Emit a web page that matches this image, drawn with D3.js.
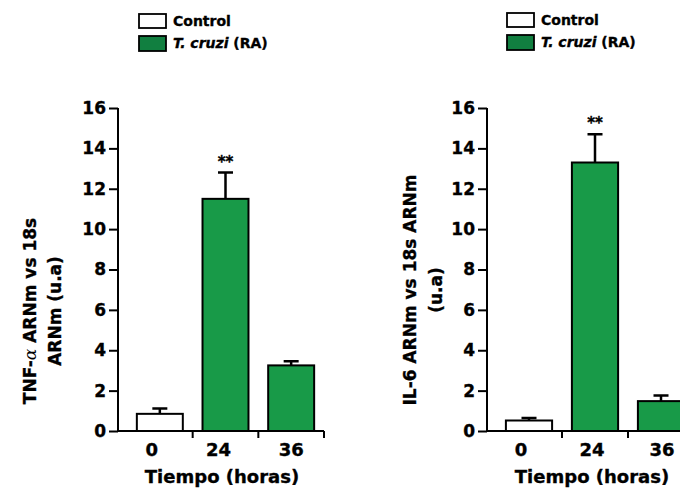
<!DOCTYPE html>
<html>
<head>
<meta charset="utf-8">
<script src="https://cdn.jsdelivr.net/npm/d3@7"></script>
<style>
  body { margin: 0; background: #fff; }
  text { font-family: "DejaVu Sans", sans-serif; font-weight: bold; fill: #000; stroke: #000; stroke-width: 0.35px; }
</style>
</head>
<body>
<script>
var width = 680;
var height = 492;

// data
var horas = ["0", "24", "36"];
var tnfValues = [0.85, 11.5, 3.25];
var tnfErrors = [0.27, 1.3, 0.2];
var il6Values = [0.52, 13.3, 1.48];
var il6Errors = [0.13, 1.4, 0.28];
var signif = ["", "**", ""];
var yTicks = [0, 2, 4, 6, 8, 10, 12, 14, 16];
var barColors = ["#ffffff", "#189a48", "#189a48"];

var svg = d3.select("body").append("svg")
    .attr("width", width)
    .attr("height", height);

function legend(x, y) {
  var g = svg.append("g").attr("transform", "translate(" + x + "," + y + ")");
  g.append("rect").attr("x", 0).attr("y", 0).attr("width", 27).attr("height", 14)
    .attr("fill", "#fff").attr("stroke", "#000").attr("stroke-width", 1.8);
  g.append("text").attr("x", 34).attr("y", 12).style("font-size", "14px").text("Control");
  g.append("rect").attr("x", 0).attr("y", 22).attr("width", 27).attr("height", 15)
    .attr("fill", "#117f40").attr("stroke", "#000").attr("stroke-width", 1.8);
  var t = g.append("text").attr("x", 34).attr("y", 34).style("font-size", "14px");
  t.append("tspan").style("font-style", "italic").text("T. cruzi");
  t.append("tspan").text(" (RA)");
}

function panel(opt) {
  var y = d3.scaleLinear().domain([0, 16]).range([431, 108]);
  var x = d3.scaleBand().domain(horas).range(opt.xr).paddingInner(0.3).paddingOuter(0.15);

  var g = svg.append("g");

  // bars
  g.selectAll(".bar")
    .data(opt.values)
    .enter().append("rect")
    .attr("class", "bar")
    .attr("x", function(d, i) { return x(horas[i]); })
    .attr("y", function(d) { return y(d); })
    .attr("width", x.bandwidth())
    .attr("height", function(d) { return y(0) - y(d); })
    .attr("fill", function(d, i) { return barColors[i]; })
    .attr("stroke", "#000")
    .attr("stroke-width", 2);

  // error bars (upper only)
  g.selectAll(".err")
    .data(opt.values)
    .enter().append("path")
    .attr("class", "err")
    .attr("fill", "none")
    .attr("stroke", "#000")
    .attr("stroke-width", 2.5)
    .attr("d", function(d, i) {
      var cx = x(horas[i]) + x.bandwidth() / 2;
      var top = y(d + opt.errors[i]);
      return "M" + cx + "," + y(d) + "V" + top + "M" + (cx - 7.5) + "," + top + "H" + (cx + 7.5);
    });

  g.selectAll(".sig")
    .data(opt.values)
    .enter().append("text")
    .attr("x", function(d, i) { return x(horas[i]) + x.bandwidth() / 2; })
    .attr("y", function(d, i) { return y(d + opt.errors[i]) - 6; })
    .attr("text-anchor", "middle")
    .style("font-size", "15px")
    .text(function(d, i) { return signif[i]; });

  // y axis
  var ya = g.append("g")
    .attr("transform", "translate(" + opt.x0 + ",0)")
    .call(d3.axisLeft(y).tickValues(yTicks).tickSize(9).tickPadding(3));
  ya.selectAll("text").style("font-size", "17px");

  // x axis with ticks at the category boundaries
  var xEnd = opt.xr[1];
  g.append("line")
    .attr("x1", opt.x0).attr("x2", xEnd)
    .attr("y1", y(0)).attr("y2", y(0))
    .attr("stroke", "#000").attr("stroke-width", 2);
  var step = x.step();
  var bounds = [1, 2, 3].map(function(k) { return x(horas[0]) - x.paddingInner() * step / 2 + k * step; });
  g.selectAll(".xt")
    .data(bounds)
    .enter().append("line")
    .attr("x1", function(d) { return d; }).attr("x2", function(d) { return d; })
    .attr("y1", y(0)).attr("y2", y(0) + 7)
    .attr("stroke", "#000").attr("stroke-width", 2);
  g.selectAll(".xl")
    .data(horas)
    .enter().append("text")
    .attr("x", function(d, i) { return x(d) + x.bandwidth() / 2 + opt.labelShift[i]; })
    .attr("y", 456)
    .attr("text-anchor", "middle")
    .style("font-size", "18px")
    .text(function(d) { return d; });

  ya.select(".domain").attr("stroke-width", 2).attr("d", "M0," + y(0) + "V" + y(16));
  ya.selectAll(".tick line").attr("stroke-width", 2);

  g.append("text")
    .attr("x", opt.titleX)
    .attr("y", 483)
    .attr("text-anchor", "middle")
    .style("font-size", "18px")
    .text("Tiempo (horas)");

  // y label, two lines
  opt.ylab.forEach(function(line, i) {
    var t = g.append("text")
      .attr("transform", "translate(" + opt.ylabX[i] + "," + opt.ylabY + ") rotate(-90)")
      .attr("text-anchor", "middle")
      .style("font-size", "17px");
    line.forEach(function(part) {
      var s = t.append("tspan").text(part.t);
      if (part.greek) s.style("font-family", "'DejaVu Serif', serif").style("font-weight", "normal")
        .style("font-style", "italic").style("stroke-width", "0px");
    });
  });
}

legend(139, 14);
legend(507, 13);

panel({
  x0: 118, xr: [127, 324],
  values: tnfValues, errors: tnfErrors,
  labelShift: [-8, -7, 0],
  titleX: 222,
  ylab: [
    [{t: "TNF-"}, {t: "α", greek: true}, {t: " ARNm vs 18s"}],
    [{t: "ARNm (u.a)"}]
  ],
  ylabX: [36, 61], ylabY: 311
});

panel({
  x0: 487, xr: [496, 694],
  values: il6Values, errors: il6Errors,
  labelShift: [-8, -3, 1],
  titleX: 592,
  ylab: [
    [{t: "IL-6 ARNm vs 18s ARNm"}],
    [{t: "(u.a)"}]
  ],
  ylabX: [416, 442], ylabY: 290
});
</script>
</body>
</html>
